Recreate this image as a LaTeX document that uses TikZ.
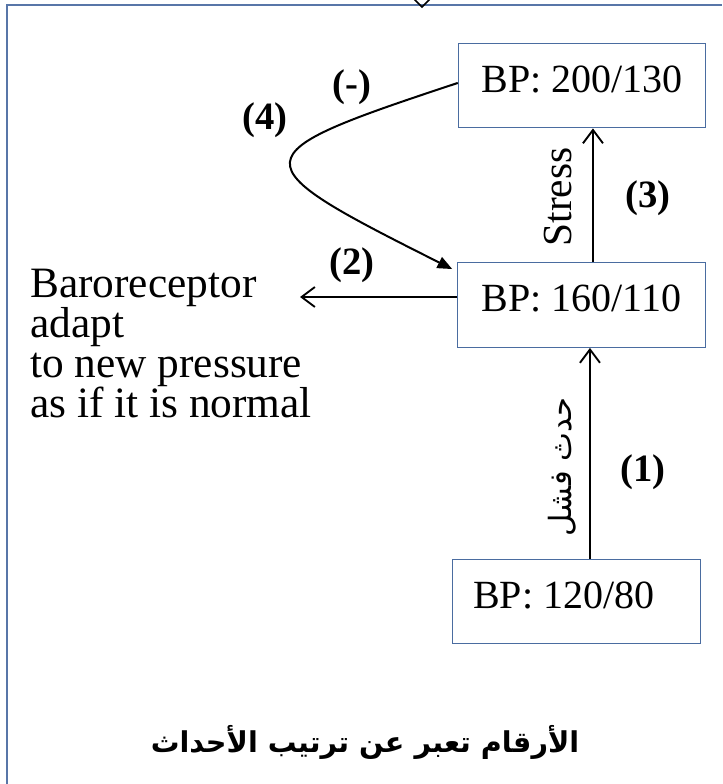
\documentclass[tikz,border=0pt]{standalone}
\usepackage{fontspec}
\setmainfont{Liberation Serif}
\newfontfamily\arabicfont[Script=Arabic]{DejaVu Sans}
\TeXXeTstate=1
\usetikzlibrary{arrows.meta,calc}
\definecolor{boxblue}{RGB}{74,108,160}
\definecolor{frameblue}{RGB}{88,118,168}
\tikzset{
  bpbox/.style={draw=boxblue, line width=0.9pt, minimum width=185.5pt, minimum height=63.5pt,
    inner sep=0pt, font=\fontsize{30}{36}\selectfont, text height=22pt, text depth=12pt},
  openarrow/.style={line width=1.5pt, -{Straight Barb[length=10pt,width=15pt,line width=1.4pt]}},
  fillarrow/.style={line width=1.5pt, -{Triangle[length=11pt,width=9pt]}},
  numlabel/.style={font=\fontsize{29}{34}\selectfont\bfseries, inner sep=0pt},
  plainlabel/.style={font=\fontsize{31}{36}\selectfont, inner sep=0pt},
}
\begin{document}
\begin{tikzpicture}[x=0.75pt,y=-0.75pt]
\useasboundingbox (0,0) rectangle (722,784);
% outer frame (partially visible)
\draw[frameblue, line width=1.6pt] (7,784) -- (7,5) -- (722,5);
\draw[black, line width=1.3pt] (413,-2) -- (422,7) -- (431,-2);
% boxes
\node[bpbox] (A) at (582,85.5) {BP: 200/130};
\node[bpbox] (B) at (581.5,305) {BP: 160/110};
\node[bpbox] (C) at (576.5,601.5) {\makebox[155pt][l]{BP: 120/80}};
% arrows
\draw[openarrow] ([xshift=10.1pt]C.north) -- ([xshift=10.1pt]C.north |- B.south);
\draw[openarrow] ([xshift=8.6pt]B.north) -- ([xshift=8.6pt]B.north |- A.south);
\coordinate (bend) at (300,297);
\draw[openarrow] ([yshift=6pt]B.west) -- (bend);
\draw[fillarrow] ([yshift=1.9pt]A.west) .. controls (237,156) and (237,161) .. ([xshift=-3.75pt,yshift=-5.25pt]B.north west);
% labels
\node[numlabel] (lm) at (352,87) {(-)};
\node[numlabel] (l4) at (265,120) {(4)};
\node[numlabel] (l2) at (352,265) {(2)};
\node[numlabel] (l3) at (648,198) {(3)};
\node[numlabel] (l1) at (643,472) {(1)};
\node[plainlabel, rotate=90] (stress) at (558,197) {Stress};
\node[inner sep=0pt, rotate=90, font=\fontsize{23}{26}\selectfont] (fail) at (562,467) {\arabicfont\beginR حدث فشل\endR};
\node[plainlabel, anchor=north west, align=left, font=\fontsize{32.5}{30}\selectfont] (baro) at (30,269)
  {Baroreceptor\\adapt\\to new pressure\\as if it is normal};
\node[inner sep=0pt, font=\fontsize{21.5}{26}\selectfont\bfseries] (title) at (365,742)
  {\arabicfont\bfseries\beginR الأرقام تعبر عن ترتيب الأحداث\endR};
\end{tikzpicture}
\end{document}
